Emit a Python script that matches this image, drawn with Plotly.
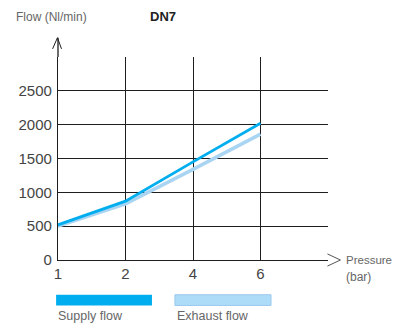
import plotly.graph_objects as go

pressure_labels = ["1", "2", "4", "6"]
supply_flow = [520, 870, 1450, 2020]
exhaust_flow = [500, 830, 1340, 1860]
y_ticks = [0, 500, 1000, 1500, 2000, 2500, 3000]
y_tick_text = ["0", "500", "1000", "1500", "2000", "2500", ""]

x_pos = list(range(len(pressure_labels)))
x_ticks = list(range(len(pressure_labels) + 1))
x_tick_text = pressure_labels + [""]

SUPPLY = "#00AEEF"
EXHAUST = "#A9D5F3"
GRID = "#1e1e1e"
FONT = "Liberation Sans, Arial, sans-serif"
LBL = dict(size=12, color="#666")

fig = go.Figure()
fig.add_trace(go.Scatter(x=x_pos, y=exhaust_flow, mode="lines",
                         line=dict(color=EXHAUST, width=3.5), name="Exhaust flow"))
fig.add_trace(go.Scatter(x=x_pos, y=supply_flow, mode="lines",
                         line=dict(color=SUPPLY, width=2.8), name="Supply flow"))

fig.update_layout(
    width=393, height=324,
    margin=dict(l=58, r=65, t=57, b=64),
    paper_bgcolor="white", plot_bgcolor="white",
    showlegend=False,
    font=dict(family=FONT, color="#444", size=15),
    xaxis=dict(range=[0, 4], tickvals=x_ticks, ticktext=x_tick_text,
               showgrid=True, gridcolor=GRID, gridwidth=1.3,
               showline=True, linecolor=GRID, linewidth=1.3,
               zeroline=False, ticks="", automargin=False, fixedrange=True),
    yaxis=dict(range=[0, 3000], tickvals=y_ticks, ticktext=y_tick_text,
               showgrid=True, gridcolor=GRID, gridwidth=1.3,
               showline=True, linecolor=GRID, linewidth=1.3,
               zeroline=False, ticks="", ticklabelstandoff=2, automargin=False,
               fixedrange=True),
)

# axis extensions and arrows
fig.add_shape(type="line", xref="paper", yref="paper", x0=0, x1=0, y0=1, y1=1.095,
              line=dict(color=GRID, width=1.3))
fig.add_shape(type="path", xref="paper", yref="paper",
              path="M -0.02,1.04 L -0.002,1.095 L 0.013,1.04",
              line=dict(color=GRID, width=1))
fig.add_shape(type="path", xref="paper", yref="paper",
              path="M 0.998,0.03 L 1.046,0.0 L 0.998,-0.03",
              line=dict(color="#555", width=1))

# legend swatches
fig.add_shape(type="rect", xref="paper", yref="paper", x0=-0.007, x1=0.348,
              y0=-0.224, y1=-0.171, fillcolor=SUPPLY, line=dict(width=0))
fig.add_shape(type="rect", xref="paper", yref="paper", x0=0.433, x1=0.789,
              y0=-0.224, y1=-0.171, fillcolor="#ACDCF7", line=dict(color="#9CC9EE", width=1))

ann = [
    dict(text="Flow (Nl/min)", x=-0.163, y=1.198, xanchor="left", font=LBL),
    dict(text="<b>DN7</b>", x=0.389, y=1.198, xanchor="center", font=dict(size=13, color="#222")),
    dict(text="Pressure", x=1.060, y=0.0, xanchor="left", font=dict(size=11.5, color="#666")),
    dict(text="(bar)", x=1.060, y=-0.082, xanchor="left", font=LBL),
    dict(text="Supply flow", x=-0.007, y=-0.274, xanchor="left", font=dict(size=12.5, color="#666")),
    dict(text="Exhaust flow", x=0.433, y=-0.274, xanchor="left", font=dict(size=12.5, color="#666")),
]
for a in ann:
    fig.add_annotation(xref="paper", yref="paper", yanchor="middle", showarrow=False, **a)

fig.write_html("out.html", config={"displayModeBar": False},
               post_script="document.body.style.margin='0';")
